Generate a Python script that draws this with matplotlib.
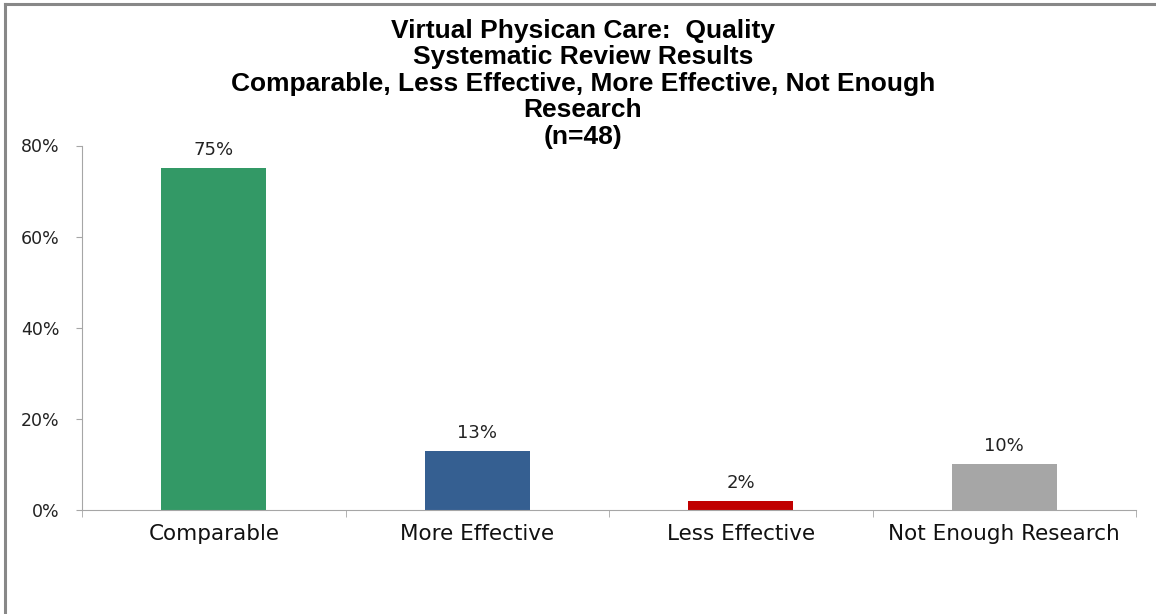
import matplotlib.pyplot as plt
import numpy as np
from matplotlib.lines import Line2D

# Données du graphique
categories = ['Comparable', 'More Effective', 'Less Effective', 'Not Enough Research']
values = [75, 13, 2, 10]
bar_colors = ['#339966', '#355F91', '#C00000', '#A6A6A6']
title_lines = ['Virtual Physican Care:  Quality',
               'Systematic Review Results',
               'Comparable, Less Effective, More Effective, Not Enough',
               'Research',
               '(n=48)']
y_ticks = [0, 20, 40, 60, 80]

fig = plt.figure(figsize=(11.56, 6.14), dpi=100)
ax = fig.add_axes([82 / 1156, 1 - 510 / 614, (1136 - 82) / 1156, (510 - 145.5) / 614])

index = np.arange(len(categories))
bars = ax.bar(index, values, 0.4, color=bar_colors)

ax.set_xlim(-0.5, len(categories) - 0.5)
ax.set_ylim(0, 80)
ax.set_yticks(y_ticks)
ax.set_yticklabels(['{}%'.format(t) for t in y_ticks])
ax.set_xticks(index)
ax.set_xticklabels(categories)
ax.set_xticks(np.arange(len(categories) + 1) - 0.5, minor=True)

for side in ['top', 'right']:
    ax.spines[side].set_visible(False)
for side in ['left', 'bottom']:
    ax.spines[side].set_color('#A6A6A6')

ax.tick_params(axis='y', length=4, color='#A6A6A6', pad=12, labelsize=12.5, labelcolor='#222222')
ax.tick_params(axis='x', which='major', length=0, pad=10, labelsize=15.5, labelcolor='#111111')
ax.tick_params(axis='x', which='minor', length=5, color='#A6A6A6')

for lbl in ax.get_xticklabels() + ax.get_yticklabels():
    lbl.set_fontfamily('DejaVu Sans')

# Valeurs au-dessus des barres
for bar, v in zip(bars, values):
    ax.annotate('{}%'.format(v),
                xy=(bar.get_x() + bar.get_width() / 2, bar.get_height()),
                xytext=(0, 6.5), textcoords='offset points',
                ha='center', va='bottom', fontsize=13, color='#222222',
                family='DejaVu Sans')

fig.text(583 / 1156, 1 - 19 / 614, '\n'.join(title_lines), ha='center', va='top',
         fontsize=19, fontweight='bold', family='Liberation Sans', linespacing=1.13)

# Bordure gauche et haut
fig.add_artist(Line2D([4.5 / 1156, 4.5 / 1156], [0, 1 - 3.5 / 614], color='#888888', lw=2.2,
                      transform=fig.transFigure))
fig.add_artist(Line2D([4.5 / 1156, 1], [1 - 3.5 / 614, 1 - 3.5 / 614], color='#888888', lw=2.2,
                      transform=fig.transFigure))

fig.savefig('out.png', dpi=100)
